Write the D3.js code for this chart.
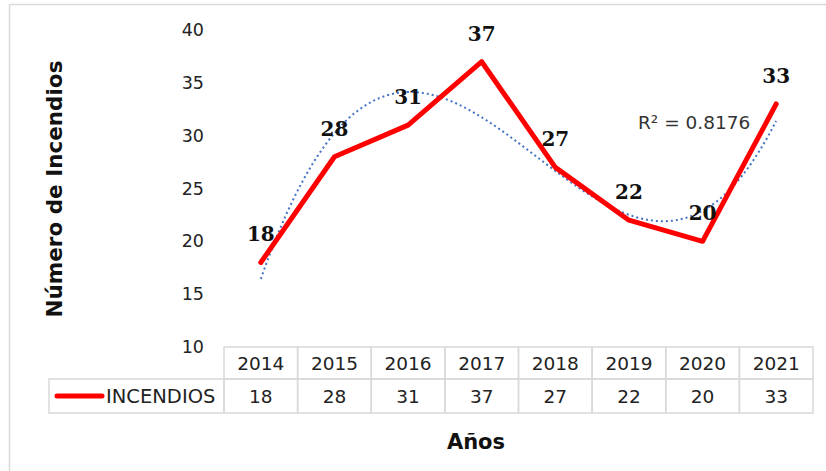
<!DOCTYPE html>
<html>
<head>
<meta charset="utf-8">
<script src="https://cdn.jsdelivr.net/npm/d3@7"></script>
<style>
  body { margin: 0; background: #fff; }
  svg { display: block; }
</style>
</head>
<body>
<svg id="chart" width="826" height="471"></svg>
<script>
const years = ["2014", "2015", "2016", "2017", "2018", "2019", "2020", "2021"];
const incendios = [18, 28, 31, 37, 27, 22, 20, 33];
const yTicks = [10, 15, 20, 25, 30, 35, 40];
const seriesName = "INCENDIOS";
const yTitle = "Número de Incendios";
const xTitle = "Años";
const r2Label = "R² = 0.8176";
const trendOrder = 3;

const svg = d3.select("#chart");
const W = 826, H = 471;
const gridColor = "#d9d9d9";
const sans = "'DejaVu Sans', Verdana, sans-serif";
const serif = "'DejaVu Serif', Cambria, serif";

// frame
svg.append("line").attr("x1", 9.5).attr("x2", W).attr("y1", 4.5).attr("y2", 4.5)
  .attr("stroke", gridColor).attr("stroke-width", 1.5);
svg.append("line").attr("x1", 9.5).attr("x2", 9.5).attr("y1", 4.5).attr("y2", H)
  .attr("stroke", gridColor).attr("stroke-width", 1.5);

const x = d3.scaleBand().domain(years).range([224, 813]).padding(0);
const y = d3.scaleLinear().domain([10, 40]).range([347, 30]);
const cx = d => x(d) + x.bandwidth() / 2;

// y axis labels
const yAxis = d3.axisLeft(y).tickValues(yTicks).tickSize(0).tickPadding(0);
const gy = svg.append("g").attr("transform", "translate(204,0)").call(yAxis);
gy.select(".domain").remove();
gy.selectAll("text").attr("font-family", sans).attr("font-size", 17.5).attr("fill", "#222");

// polynomial least squares trendline
function polyfit(xs, ys, order) {
  const n = order + 1;
  const A = Array.from({length: n}, () => new Array(n + 1).fill(0));
  for (let i = 0; i < xs.length; i++) {
    for (let r = 0; r < n; r++) {
      for (let c = 0; c < n; c++) A[r][c] += Math.pow(xs[i], r + c);
      A[r][n] += ys[i] * Math.pow(xs[i], r);
    }
  }
  for (let i = 0; i < n; i++) {
    let p = i;
    for (let k = i + 1; k < n; k++) if (Math.abs(A[k][i]) > Math.abs(A[p][i])) p = k;
    [A[i], A[p]] = [A[p], A[i]];
    for (let k = i + 1; k < n; k++) {
      const f = A[k][i] / A[i][i];
      for (let c = i; c <= n; c++) A[k][c] -= f * A[i][c];
    }
  }
  const coef = new Array(n).fill(0);
  for (let i = n - 1; i >= 0; i--) {
    let s = A[i][n];
    for (let c = i + 1; c < n; c++) s -= A[i][c] * coef[c];
    coef[i] = s / A[i][i];
  }
  return coef;
}
const xsIdx = incendios.map((d, i) => i + 1);
const coef = polyfit(xsIdx, incendios, trendOrder);
const pf = t => coef.reduce((s, c, k) => s + c * Math.pow(t, k), 0);
const trendPts = d3.range(1, 8.0001, 0.05).map(t => [t, pf(t)]);
const idxToX = d3.scaleLinear().domain([1, 8]).range([cx(years[0]), cx(years[7])]);

svg.append("path")
  .datum(trendPts)
  .attr("d", d3.line().x(d => idxToX(d[0])).y(d => y(d[1])).curve(d3.curveLinear))
  .attr("fill", "none").attr("stroke", "#4472C4").attr("stroke-width", 2)
  .attr("stroke-dasharray", "2,3");

// main line
svg.append("path")
  .datum(incendios)
  .attr("d", d3.line().x((d, i) => cx(years[i])).y(d => y(d)))
  .attr("fill", "none").attr("stroke", "#FF0000").attr("stroke-width", 5)
  .attr("stroke-linejoin", "round").attr("stroke-linecap", "round");

// data labels
svg.append("g").selectAll("text").data(incendios).join("text")
  .attr("x", (d, i) => cx(years[i]))
  .attr("y", d => y(d) - 21)
  .attr("text-anchor", "middle")
  .attr("font-family", serif).attr("font-weight", "bold").attr("font-size", 20)
  .attr("fill", "#111")
  .text(d => d);

// R2 label
svg.append("text").attr("x", 638).attr("y", 129)
  .attr("font-family", sans).attr("font-size", 18.5).attr("fill", "#333")
  .text(r2Label);

// data table
const rowTop = 347, rowMid = 379, rowBot = 413;
const tbl = svg.append("g");
tbl.selectAll("rect.h").data(years).join("rect")
  .attr("x", d => x(d)).attr("y", rowTop).attr("width", x.bandwidth()).attr("height", rowMid - rowTop)
  .attr("fill", "none").attr("stroke", gridColor).attr("stroke-width", 1.5);
tbl.selectAll("rect.v").data(years).join("rect")
  .attr("x", d => x(d)).attr("y", rowMid).attr("width", x.bandwidth()).attr("height", rowBot - rowMid)
  .attr("fill", "none").attr("stroke", gridColor).attr("stroke-width", 1.5);
tbl.append("rect").attr("x", 49).attr("y", rowMid).attr("width", 224 - 49).attr("height", rowBot - rowMid)
  .attr("fill", "none").attr("stroke", gridColor).attr("stroke-width", 1.5);

tbl.selectAll("text.yr").data(years).join("text")
  .attr("x", d => cx(d)).attr("y", (rowTop + rowMid) / 2 + 6.5)
  .attr("text-anchor", "middle").attr("font-family", sans).attr("font-size", 18.5).attr("fill", "#222")
  .text(d => d);
tbl.selectAll("text.val").data(incendios).join("text")
  .attr("x", (d, i) => cx(years[i])).attr("y", (rowMid + rowBot) / 2 + 6.5)
  .attr("text-anchor", "middle").attr("font-family", sans).attr("font-size", 18.5).attr("fill", "#222")
  .text(d => d);

// legend key
tbl.append("line").attr("x1", 57).attr("x2", 102).attr("y1", 396).attr("y2", 396)
  .attr("stroke", "#FF0000").attr("stroke-width", 5).attr("stroke-linecap", "round");
tbl.append("text").attr("x", 106).attr("y", 402.5)
  .attr("font-family", sans).attr("font-size", 19.5).attr("fill", "#222")
  .text(seriesName);

// axis titles
svg.append("text").attr("transform", "translate(62,189) rotate(-90)")
  .attr("text-anchor", "middle").attr("font-family", sans).attr("font-weight", "bold")
  .attr("font-size", 21.5).attr("fill", "#111").text(yTitle);
svg.append("text").attr("x", 476).attr("y", 449)
  .attr("text-anchor", "middle").attr("font-family", sans).attr("font-weight", "bold")
  .attr("font-size", 21).attr("fill", "#111").text(xTitle);
</script>
</body>
</html>
